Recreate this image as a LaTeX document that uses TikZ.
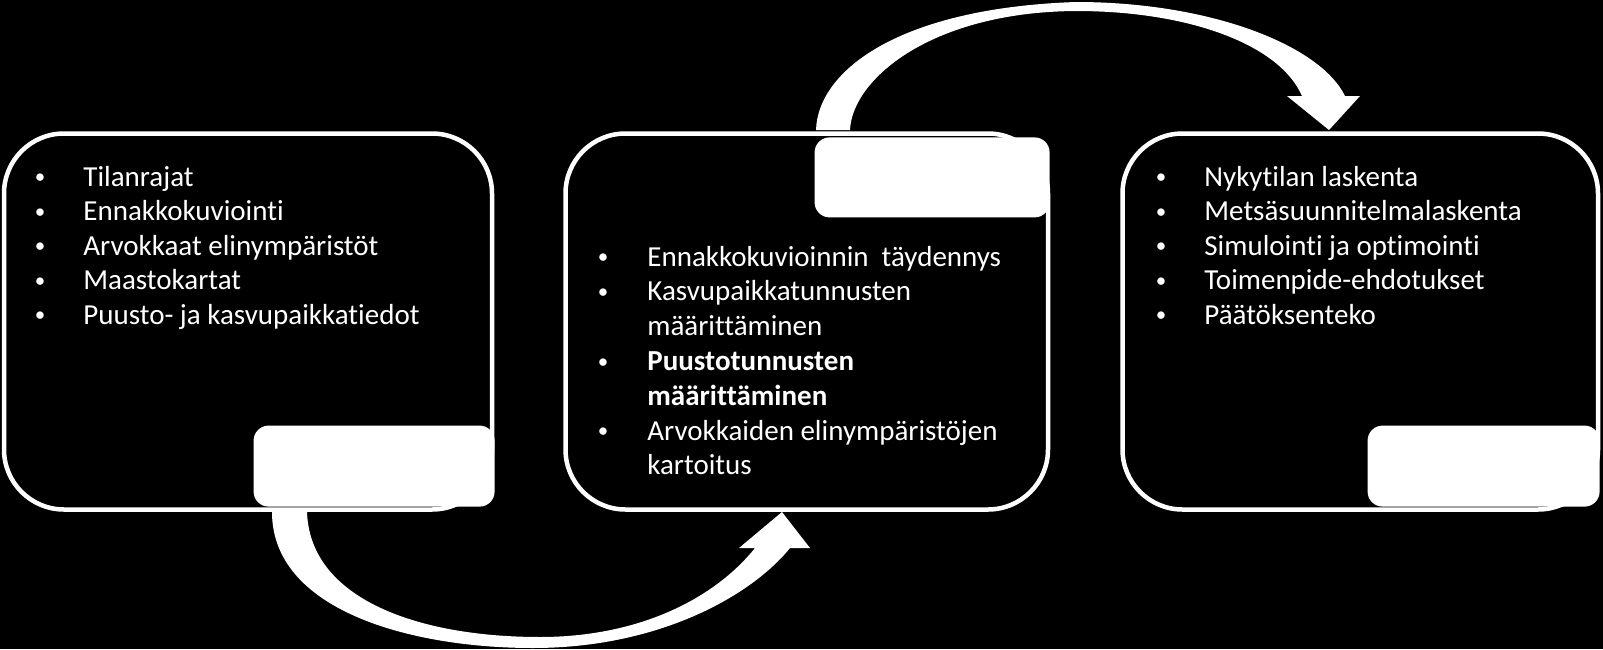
\documentclass[tikz,border=0pt]{standalone}
\usepackage{fontspec}
\setmainfont{Carlito}[Ligatures=NoCommon]
\usetikzlibrary{positioning}
\tikzset{
  panel/.style={draw=white, fill=black, line width=2.25pt, rounded corners=30pt, inner sep=0pt},
  tag/.style={fill=white, rounded corners=7.5pt, inner sep=0pt},
  bendarrow/.style={fill=white},
  entry/.style={text=white, anchor=base west, inner sep=0pt, font=\fontsize{14.5pt}{17pt}\selectfont},
  dot/.style={text=white, anchor=base, inner sep=0pt, font=\fontsize{10.5pt}{12pt}\selectfont},
}
\newcommand{\blt}{\raisebox{1.2pt}{\textbullet}}
\begin{document}
\begin{tikzpicture}[x=0.5pt, y=-0.5pt]
  \fill[black] (0,0) rectangle (1603,649);
  \useasboundingbox (0,0) rectangle (1603,649);

  % curved arrows
  \fill[bendarrow] (272,512) .. controls (272,610) and (410,648) .. (533,648)
    .. controls (660,648) and (752,595) .. (790,548) -- (810,548) -- (782,512) -- (739,548) -- (755,548)
    .. controls (715,598) and (640,637) .. (540,637)
    .. controls (420,637) and (310,600) .. (307,512) -- cycle;
  \fill[bendarrow] (816,130) .. controls (818,70) and (900,8) .. (1076,2)
    .. controls (1210,2) and (1320,45) .. (1345,96) -- (1360,96) -- (1329,130) -- (1287,96) -- (1302,96)
    .. controls (1280,45) and (1190,11) .. (1076,11)
    .. controls (930,12) and (852,80) .. (850,130) -- cycle;

  % panels
  \node[panel, minimum width=244pt, minimum height=188pt] (box1) at (248,321.5) {};
  \node[panel, minimum width=241.25pt, minimum height=188pt] (box2) at (806.75,321.5) {};
  \node[panel, minimum width=237.75pt, minimum height=188pt] (box3) at (1360.25,321.5) {};

  \node[tag, minimum width=120.5pt, minimum height=40.5pt, anchor=south east] (tag1) at (495,507) {};
  \node[tag, minimum width=117.5pt, minimum height=40pt, anchor=north east] (tag2) at (1050,137) {};
  \node[tag, minimum width=116pt, minimum height=40.5pt, anchor=south east] (tag3) at (1600,507) {};

  % lists
  \foreach \txt [count=\i] in {Tilanrajat, Ennakkokuviointi, Arvokkaat elinympäristöt, Maastokartat, Puusto- ja kasvupaikkatiedot} {
    \node[dot] (b1-\i) at (40, 151.5+34.5*\i) {\blt};
    \node[entry] (t1-\i) at (83, 151.5+34.5*\i) {\txt};
  }
  \foreach \b/\txt [count=\i] in {1/Ennakkokuvioinnin\ \ täydennys, 1/Kasvupaikkatunnusten, 0/määrittäminen, 1/\textbf{Puustotunnusten}, 0/\textbf{määrittäminen}, 1/Arvokkaiden elinympäristöjen, 0/kartoitus} {
    \ifnum\b=1 \node[dot] (b2-\i) at (603, 231.2+34.8*\i) {\blt}; \fi
    \node[entry] (t2-\i) at (647, 231.2+34.8*\i) {\txt};
  }
  \foreach \txt [count=\i] in {Nykytilan laskenta, Metsäsuunnitelmalaskenta, Simulointi ja optimointi, Toimenpide-ehdotukset, Päätöksenteko} {
    \node[dot] (b3-\i) at (1161, 151.5+34.5*\i) {\blt};
    \node[entry] (t3-\i) at (1204, 151.5+34.5*\i) {\txt};
  }
\end{tikzpicture}
\end{document}
